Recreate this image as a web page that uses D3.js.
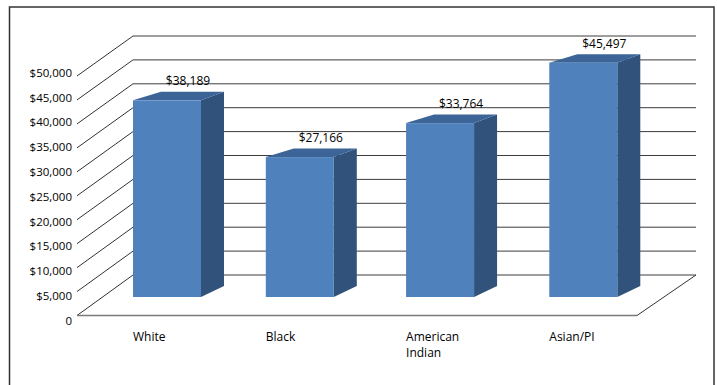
<!DOCTYPE html>
<html>
<head>
<meta charset="utf-8">
<script src="https://cdn.jsdelivr.net/npm/d3@7"></script>
<style>
  html, body { margin: 0; padding: 0; background: #fff; }
  svg { display: block; }
  text { font-family: "Open Sans", "Noto Sans", sans-serif; fill: #000; }
</style>
</head>
<body>
<svg id="chart" width="717" height="385"></svg>
<script>
// Median household income by race
const categories = ["White", "Black", "American Indian", "Asian/PI"];
const categoryLines = [["White"], ["Black"], ["American", "Indian"], ["Asian/PI"]];
const incomes = [38189, 27166, 33764, 45497];
const tickValues = [0, 5000, 10000, 15000, 20000, 25000, 30000, 35000, 40000, 45000, 50000];
const tickLabels = ["0", "$5,000", "$10,000", "$15,000", "$20,000", "$25,000",
                    "$30,000", "$35,000", "$40,000", "$45,000", "$50,000"];

const svg = d3.select("#chart");

// Outer frame
svg.append("rect")
  .attr("x", 9.5).attr("y", 7)
  .attr("width", 704.5).attr("height", 420)
  .attr("fill", "none").attr("stroke", "#333").attr("stroke-width", 1.5);

// Geometry of the 3-D box: front-left floor corner, back wall span
const frontLeft = 77, frontRight = 637;
const backLeft = 133, backRight = 696;

// Scales: back wall, left-side diagonal starts, tick label positions, bars
const yBack  = d3.scaleLinear().domain([0, 50000]).range([275, 36]);
const yDiag  = d3.scaleLinear().domain([0, 50000]).range([315.5, 76]);
const yLabel = d3.scaleLinear().domain([0, 50000]).range([320.7, 72.7]);
const barBase = 297;
const yBar   = d3.scaleLinear().domain([0, 50000]).range([barBase, barBase - 257.5]);
// Horizontal bar placement (slight perspective widening to the right)
const xCenter = d3.scalePow().exponent(1.04).domain([0, categories.length - 1]).range([167, 583.3]);
const barW = 68;
const sideDx = 23, sideDyTop = -8.5, sideDyBottom = -11, topLeftDx = 28;

const grid = svg.append("g");

// Back wall gridlines
grid.selectAll("line.h").data(tickValues).join("line")
  .attr("class", "h")
  .attr("x1", backLeft).attr("x2", backRight)
  .attr("y1", d => yBack(d)).attr("y2", d => yBack(d))
  .attr("stroke", "#3c3c3c").attr("stroke-width", 1);

// Side wall diagonals
grid.selectAll("line.d").data(tickValues).join("line")
  .attr("class", "d")
  .attr("x1", frontLeft).attr("x2", backLeft)
  .attr("y1", d => yDiag(d)).attr("y2", d => yBack(d))
  .attr("stroke", "#333").attr("stroke-width", 1);

// Floor: front edge and right edge
grid.append("line")
  .attr("x1", frontLeft).attr("x2", frontRight)
  .attr("y1", yDiag(0)).attr("y2", yDiag(0))
  .attr("stroke", "#7a7a7a").attr("stroke-width", 1.6);
grid.append("line")
  .attr("x1", frontRight).attr("x2", backRight)
  .attr("y1", yDiag(0)).attr("y2", yBack(0))
  .attr("stroke", "#333").attr("stroke-width", 1);

// Y tick labels
svg.append("g").selectAll("text").data(tickValues).join("text")
  .attr("x", 72).attr("y", d => yLabel(d)).attr("dy", "0.35em")
  .attr("text-anchor", "end").attr("font-size", 11.5)
  .text((d, i) => tickLabels[i]);

// Bars
const bars = svg.append("g").selectAll("g").data(incomes).join("g");

bars.append("path") // right side face
  .attr("fill", "#31527a")
  .attr("d", (d, i) => {
    const x1 = xCenter(i) + barW / 2, yt = yBar(d);
    return `M${x1},${yt}L${x1 + sideDx},${yt + sideDyTop}L${x1 + sideDx},${barBase + sideDyBottom}L${x1},${barBase}Z`;
  });

bars.append("path") // top face
  .attr("fill", "#3c6496")
  .attr("d", (d, i) => {
    const x0 = xCenter(i) - barW / 2, x1 = xCenter(i) + barW / 2, yt = yBar(d);
    return `M${x0},${yt}L${x0 + topLeftDx},${yt + sideDyTop}L${x1 + sideDx},${yt + sideDyTop}L${x1},${yt}Z`;
  });

bars.append("rect") // front face
  .attr("fill", "#4f81bd")
  .attr("x", (d, i) => xCenter(i) - barW / 2)
  .attr("y", d => yBar(d))
  .attr("width", barW)
  .attr("height", d => barBase - yBar(d));

// Value labels
bars.append("text")
  .attr("x", (d, i) => xCenter(i) + 21)
  .attr("y", d => yBar(d) - 15)
  .attr("text-anchor", "middle").attr("font-size", 12)
  .text(d => "$" + d3.format(",")(d));

// Category labels
const cats = svg.append("g").selectAll("text").data(categoryLines).join("text")
  .attr("x", (d, i) => xCenter(i) - barW / 2)
  .attr("y", 341)
  .attr("font-size", 12);
cats.selectAll("tspan").data(d => d).join("tspan")
  .attr("x", function () { return this.parentNode.getAttribute("x"); })
  .attr("dy", (d, j) => j === 0 ? 0 : 15.5)
  .text(d => d);
</script>
</body>
</html>
